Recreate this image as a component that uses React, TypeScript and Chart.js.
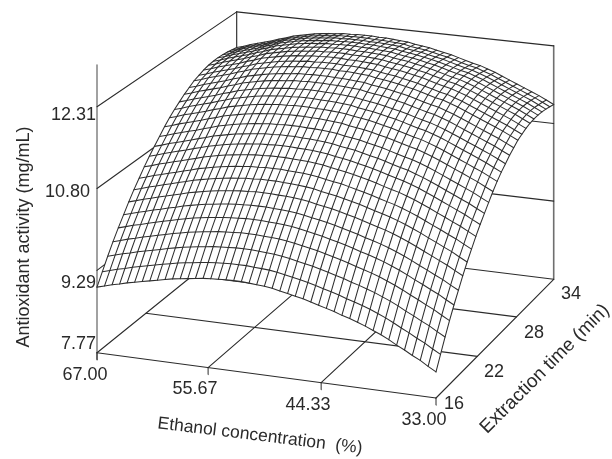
import React, { useEffect, useRef } from "react";
import { Chart, registerables } from "chart.js";

Chart.register(...registerables);

// Activity (mg/mL) along the surface's near edge (time 16 min), ethanol 67 -> 33 %
const activityAtTime16 = [
  8.98, 9.02, 9.06, 9.09, 9.13, 9.16, 9.19, 9.22, 9.25, 9.28, 9.31, 9.33, 9.35, 9.37, 9.39,
  9.4, 9.41, 9.42, 9.42, 9.42, 9.41, 9.4, 9.39, 9.37, 9.34, 9.31, 9.28, 9.25, 9.21, 9.17,
  9.13, 9.09, 9.04, 9.0, 8.95, 8.9, 8.84, 8.78, 8.71, 8.63, 8.56, 8.48, 8.41, 8.32, 8.24,
];
// Activity (mg/mL) along the surface's far edge (time 34 min), ethanol 67 -> 33 %
const activityAtTime34 = [
  11.6, 11.64, 11.69, 11.73, 11.77, 11.81, 11.86, 11.9, 11.95, 11.98, 12.01, 12.04, 12.06, 12.08, 12.09,
  12.11, 12.11, 12.12, 12.12, 12.12, 12.11, 12.11, 12.1, 12.09, 12.08, 12.05, 12.03, 12.01, 11.98, 11.95,
  11.92, 11.88, 11.84, 11.8, 11.77, 11.72, 11.67, 11.61, 11.55, 11.49, 11.43, 11.37, 11.31, 11.24, 11.17,
];
// Share of the near-to-far rise reached at each time line, 16 -> 34 min
const timeRiseShare = [
  0, 0.08, 0.16, 0.235, 0.305, 0.37, 0.435, 0.495, 0.55, 0.605, 0.655, 0.7, 0.745, 0.79, 0.83,
  0.865, 0.895, 0.925, 0.95, 0.975, 0.99, 1.005, 1.015, 1.02, 1.022, 1.02, 1.015, 1.008, 1.0,
];

const ethanolTicks = [67.0, 55.67, 44.33, 33.0];
const timeTicks = [16, 22, 28, 34];
const activityTicks = [7.77, 9.29, 10.8, 12.31];

const yTitle = "Antioxidant activity (mg/mL)";
const xTitle = "Ethanol concentration  (%)";
const zTitle = "Extraction time (min)";

// Projection of the 3D box onto the page
const cA = { x: 97, y: 352.7 };
const cB = { x: 436, y: 398 };
const cC = { x: 553.7, y: 279.3 };
const cD = { x: 236.7, y: 240 };
const pxPerUnit = 54.19;

const dx1 = cB.x - cC.x, dx2 = cD.x - cC.x, sx = cA.x - cB.x + cC.x - cD.x;
const dy1 = cB.y - cC.y, dy2 = cD.y - cC.y, sy = cA.y - cB.y + cC.y - cD.y;
const den = dx1 * dy2 - dx2 * dy1;
const g = (sx * dy2 - dx2 * sy) / den;
const h = (dx1 * sy - sx * dy1) / den;

function project(ethanol: number, time: number, activity: number) {
  const u = (67 - ethanol) / 34;
  const v = (time - 16) / 18;
  const w = 1 + g * u + h * v;
  const x = ((cB.x * (1 + g) - cA.x) * u + (cD.x * (1 + h) - cA.x) * v + cA.x) / w;
  const y = ((cB.y * (1 + g) - cA.y) * u + (cD.y * (1 + h) - cA.y) * v + cA.y) / w;
  return { x, y: y - ((activity - 7.77) * pxPerUnit) / w };
}

const nE = activityAtTime16.length;
const nT = timeRiseShare.length;
const ethanolAt = (i: number) => 67 - (34 * i) / (nE - 1);
const timeAt = (j: number) => 16 + (18 * j) / (nT - 1);
const surfaceAt = (i: number, j: number) =>
  activityAtTime16[i] + timeRiseShare[j] * (activityAtTime34[i] - activityAtTime16[i]);
const meshPoint = (i: number, j: number) => project(ethanolAt(i), timeAt(j), surfaceAt(i, j));

const MESH = "#2e2e2e";
const BOX = "#2b2b2b";
const AXIS = "#6f6f6f";
const TEXT = "#2a2a2a";
const FONT = "Liberation Sans";

function lineSet(data: { x: number; y: number }[], color: string, width: number, label: string) {
  return {
    label,
    data,
    showLine: true,
    borderColor: color,
    backgroundColor: color,
    borderWidth: width,
    pointRadius: 0,
    pointHoverRadius: 0,
    tension: 0,
    fill: false,
    borderCapStyle: "round" as const,
    clip: false as const,
  };
}

function buildDatasets() {
  const sets: any[] = [];
  for (let j = 0; j < nT; j++) {
    sets.push(lineSet(activityAtTime16.map((_, i) => meshPoint(i, j)), MESH, 1.05, "time line"));
  }
  for (let i = 0; i < nE; i++) {
    sets.push(lineSet(timeRiseShare.map((_, j) => meshPoint(i, j)), MESH, 1.05, "ethanol line"));
  }
  const outline = [
    ...activityAtTime16.map((_, i) => meshPoint(i, 0)),
    ...timeRiseShare.map((_, j) => meshPoint(nE - 1, j)),
    ...activityAtTime16.map((_, i) => meshPoint(nE - 1 - i, nT - 1)),
    ...timeRiseShare.map((_, j) => meshPoint(0, nT - 1 - j)),
  ];
  sets.push({ ...lineSet(outline, "rgba(0,0,0,0)", 0, "surface outline"), surfaceMask: true });

  const top = activityTicks[activityTicks.length - 1];
  const bottom = activityTicks[0];
  // floor grid
  for (const e of ethanolTicks) {
    sets.push(lineSet([project(e, 16, bottom), project(e, 34, bottom)], BOX, 1.1, "floor"));
    sets.push(lineSet([project(e, 16, bottom - 0.13), project(e, 16, bottom)], BOX, 1, "tick"));
  }
  for (const t of timeTicks) {
    sets.push(lineSet([project(67, t, bottom), project(33, t, bottom)], BOX, 1.1, "floor"));
  }
  // walls
  for (const a of activityTicks.slice(1)) {
    sets.push(lineSet([project(67, 16, a), project(67, 34, a)], BOX, 1.1, "left wall"));
    sets.push(lineSet([project(67, 34, a), project(33, 34, a)], BOX, 1.1, "back wall"));
  }
  sets.push(lineSet([project(67, 34, bottom), project(67, 34, top)], "#222", 1.1, "back edge"));
  sets.push(lineSet([project(33, 34, bottom), project(33, 34, top)], AXIS, 1.6, "right edge"));
  sets.push(lineSet([project(67, 16, bottom - 0.13), project(67, 16, 13.08)], AXIS, 1.3, "activity axis"));
  return sets;
}

const ethanolLabelPos = [
  { x: 85, y: 375 }, { x: 195, y: 389 }, { x: 308, y: 405 }, { x: 424, y: 420 },
];
const timeLabelPos = [
  { x: 454, y: 404 }, { x: 494, y: 372 }, { x: 534, y: 333 }, { x: 571, y: 294 },
];
const activityLabelPos = [
  { x: 96, y: 344 }, { x: 96, y: 283 }, { x: 90, y: 192 }, { x: 96, y: 115 },
];

const surfaceMask = {
  id: "surfaceMask",
  beforeDatasetDraw(chart: any, args: any) {
    const ds = chart.data.datasets[args.index];
    if (!ds.surfaceMask) return;
    const { ctx, scales } = chart;
    ctx.save();
    ctx.beginPath();
    ds.data.forEach((p: any, k: number) => {
      const px = scales.x.getPixelForValue(p.x);
      const py = scales.y.getPixelForValue(p.y);
      if (k === 0) ctx.moveTo(px, py);
      else ctx.lineTo(px, py);
    });
    ctx.closePath();
    ctx.fillStyle = "#fff";
    ctx.fill();
    ctx.restore();
  },
};

const axisText = {
  id: "axisText",
  afterDraw(chart: any) {
    const { ctx } = chart;
    ctx.save();
    ctx.fillStyle = TEXT;
    ctx.textBaseline = "middle";
    ctx.font = `18px "${FONT}"`;
    ctx.textAlign = "center";
    ethanolTicks.forEach((e, k) => ctx.fillText(e.toFixed(2), ethanolLabelPos[k].x, ethanolLabelPos[k].y));
    timeTicks.forEach((t, k) => ctx.fillText(String(t), timeLabelPos[k].x, timeLabelPos[k].y));
    ctx.textAlign = "right";
    activityTicks.forEach((a, k) => ctx.fillText(a.toFixed(2), activityLabelPos[k].x, activityLabelPos[k].y));
    ctx.textAlign = "center";
    const rotated = (text: string, x: number, y: number, angle: number, size: number) => {
      ctx.save();
      ctx.translate(x, y);
      ctx.rotate((angle * Math.PI) / 180);
      ctx.font = `${size}px "${FONT}"`;
      ctx.fillText(text, 0, 0);
      ctx.restore();
    };
    rotated(yTitle, 24, 237, -90, 18);
    rotated(xTitle, 260, 436, 7, 17.5);
    rotated(zTitle, 545, 369, -45, 19);
    ctx.restore();
  },
};

export default function App() {
  const ref = useRef<HTMLCanvasElement>(null);
  useEffect(() => {
    if (!ref.current) return;
    const chart = new Chart(ref.current, {
      type: "scatter",
      data: { datasets: buildDatasets() },
      options: {
        responsive: false,
        animation: false,
        layout: { padding: 0 },
        scales: {
          x: { type: "linear", min: 0, max: 612, display: false },
          y: { type: "linear", min: 0, max: 459, reverse: true, display: false },
        },
        plugins: { legend: { display: false }, tooltip: { enabled: false } },
        events: [],
      },
      plugins: [surfaceMask, axisText],
    } as any);
    return () => chart.destroy();
  }, []);
  return (
    <div style={{ position: "fixed", left: 0, top: 0, width: 612, height: 459, background: "#fff" }}>
      <canvas ref={ref} width={612} height={459} style={{ display: "block" }} />
    </div>
  );
}
